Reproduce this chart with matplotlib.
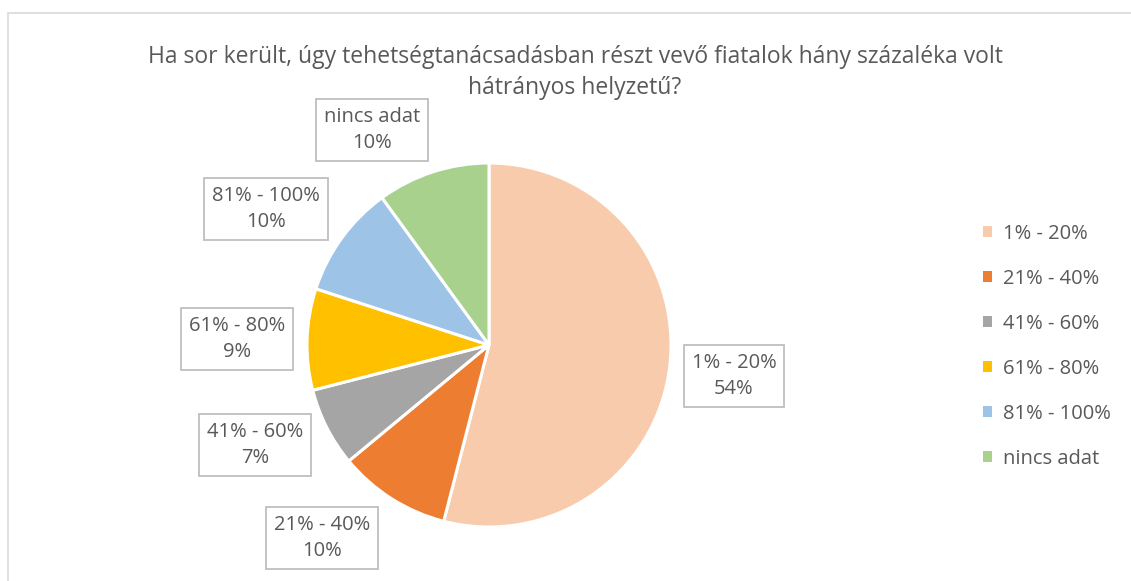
import matplotlib
matplotlib.use("Agg")
import matplotlib.pyplot as plt
from matplotlib.patches import Rectangle

categories = ["1% - 20%", "21% - 40%", "41% - 60%", "61% - 80%", "81% - 100%", "nincs adat"]
values = [54, 10, 7, 9, 10, 10]
colors = ["#F8CBAD", "#ED7D31", "#A5A5A5", "#FFC000", "#9DC3E6", "#A9D18E"]
title = "Ha sor került, úgy tehetségtanácsadásban részt vevő fiatalok hány százaléka volt\nhátrányos helyzetű?"

# label box centres (data coords of pie axes, radius 1)
label_pos = [(1.346, -0.17), (-0.918, -1.06), (-1.286, -0.549),
             (-1.385, 0.033), (-1.225, 0.747), (-0.643, 1.181)]

plt.rcParams['font.family'] = ['Open Sans', 'DejaVu Sans']
TXT = "#595959"

W, H = 1131, 581
fig = plt.figure(figsize=(W / 100, H / 100), dpi=100)

# outer frame
fig.add_artist(Rectangle((8 / W, -0.1), 1.2, (581 - 13) / H + 0.1, transform=fig.transFigure,
                         fill=False, edgecolor="#D9D9D9", linewidth=1.2))

cx, cy, r = 489, 345, 182
ax = fig.add_axes([(cx - r) / W, (H - cy - r) / H, 2 * r / W, 2 * r / H])
wedges, _ = ax.pie(values, colors=colors, startangle=90, counterclock=False,
                   radius=1, wedgeprops=dict(edgecolor="white", linewidth=2.2))
ax.set_xlim(-1, 1)
ax.set_ylim(-1, 1)
ax.set_aspect("equal")
ax.axis("off")

total = sum(values)
for cat, v, (x, y) in zip(categories, values, label_pos):
    ax.text(x, y, f"{cat}\n{round(100 * v / total)}%", ha="center", va="center",
            fontsize=14.5, color=TXT, linespacing=1.45, clip_on=False,
            bbox=dict(boxstyle="square,pad=0.38", facecolor="white", edgecolor="#BFBFBF", linewidth=1.3))

fig.text(575 / W, 1 - 72.5 / H, title, ha="center", va="center", fontsize=16.5, color=TXT, linespacing=1.38)

leg = fig.legend(wedges, categories, loc="upper left", bbox_to_anchor=(983 / W, 1 - 224 / H),
                 frameon=False, fontsize=14.5, labelcolor=TXT, handlelength=0.45, handleheight=0.45,
                 handletextpad=0.55, labelspacing=1.24, borderaxespad=0, borderpad=0)
for h in leg.legend_handles:
    h.set_edgecolor("none")

fig.savefig("out.png", dpi=100)
